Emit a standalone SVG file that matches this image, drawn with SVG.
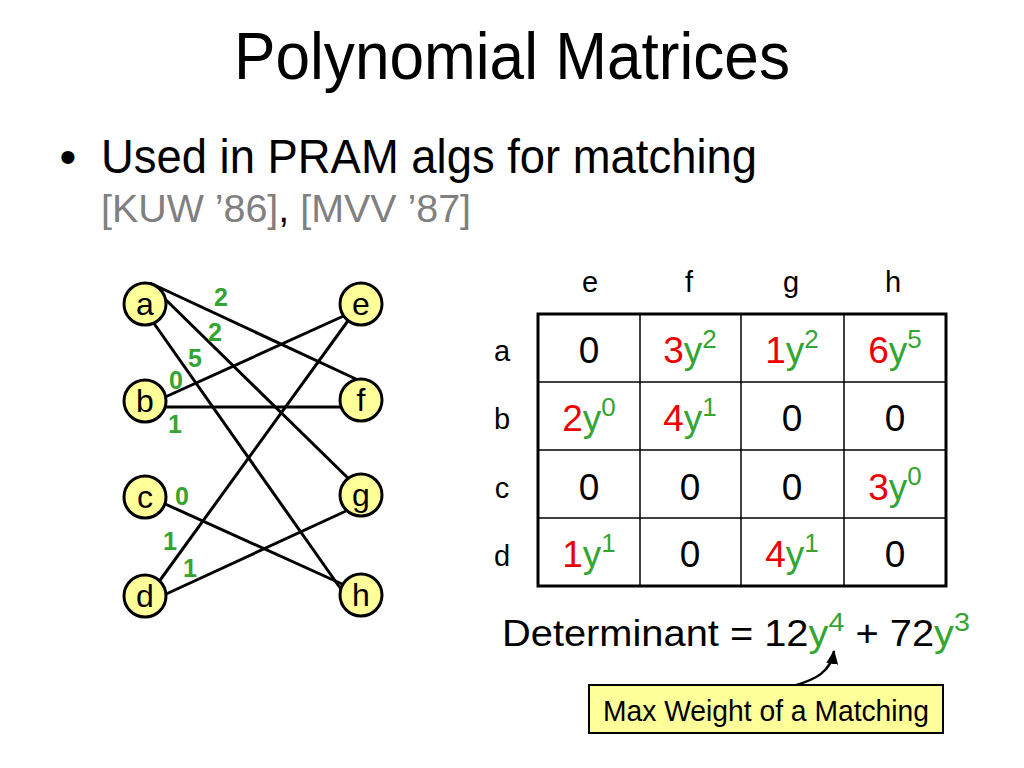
<svg xmlns="http://www.w3.org/2000/svg" width="1024" height="768" viewBox="0 0 1024 768">
<defs>
<style>
text{font-family:"Liberation Sans",Arial,Helvetica,sans-serif;}
.node circle{fill:#ffff99;stroke:#000;stroke-width:3;}
.node text{font-size:32px;text-anchor:middle;fill:#000;}
.edge line{stroke:#000;stroke-width:3;}
.w{font-size:25px;font-weight:bold;fill:#33a532;text-anchor:middle;}
.hdr{font-size:29px;text-anchor:middle;fill:#000;}
.cell{font-size:37px;text-anchor:middle;fill:#000;}
.r{fill:#ee0000;}
.g{fill:#33a532;}
.sup{font-size:26px;}
.grid{stroke:#000;stroke-width:1.5;}
</style>
<marker id="ah" viewBox="0 0 14 12" refX="13" refY="6" markerWidth="14" markerHeight="12" orient="auto" markerUnits="userSpaceOnUse">
<path d="M0,0 L14,6 L0,12 z" fill="#000"/>
</marker>
</defs>
<rect width="1024" height="768" fill="#fff"/>

<text x="512" y="79" font-size="66" text-anchor="middle" textLength="556" lengthAdjust="spacingAndGlyphs">Polynomial Matrices</text>
<text x="68" y="173" font-size="48" text-anchor="middle">•</text>
<text x="101" y="173" font-size="48" textLength="656" lengthAdjust="spacingAndGlyphs">Used in PRAM algs for matching</text>
<text x="101" y="222" font-size="38" textLength="370" lengthAdjust="spacingAndGlyphs"><tspan fill="#808080">[KUW ’86]</tspan><tspan fill="#000">, </tspan><tspan fill="#808080">[MVV ’87]</tspan></text>

<g id="connectors" class="edge">
<line x1="150" y1="283" x2="358" y2="380"/>
<line x1="163" y1="297" x2="352" y2="482"/>
<line x1="153" y1="322" x2="343" y2="592"/>
<line x1="163" y1="398" x2="348" y2="314"/>
<line x1="163" y1="407" x2="343" y2="407"/>
<line x1="163" y1="503" x2="342" y2="584"/>
<line x1="158" y1="583" x2="350" y2="318"/>
<line x1="164" y1="595" x2="346" y2="511"/>
</g>

<g id="node-a" class="node"><circle cx="145" cy="304" r="21"/><text x="145" y="315">a</text></g>
<g id="node-b" class="node"><circle cx="145" cy="401" r="21"/><text x="145" y="412">b</text></g>
<g id="node-c" class="node"><circle cx="145" cy="497" r="21"/><text x="145" y="508">c</text></g>
<g id="node-d" class="node"><circle cx="145" cy="596" r="21"/><text x="145" y="607">d</text></g>
<g id="node-e" class="node"><circle cx="361" cy="304" r="21"/><text x="361" y="315">e</text></g>
<g id="node-f" class="node"><circle cx="361" cy="400" r="21"/><text x="361" y="411">f</text></g>
<g id="node-g" class="node"><circle cx="361" cy="495" r="21"/><text x="361" y="506">g</text></g>
<g id="node-h" class="node"><circle cx="361" cy="595" r="21"/><text x="361" y="606">h</text></g>

<g id="weights">
<text class="w" x="221" y="306">2</text>
<text class="w" x="215" y="341">2</text>
<text class="w" x="195" y="367">5</text>
<text class="w" x="176" y="389">0</text>
<text class="w" x="175" y="433">1</text>
<text class="w" x="182" y="505">0</text>
<text class="w" x="170" y="550">1</text>
<text class="w" x="190" y="577">1</text>
</g>

<g id="matrix">
<text class="hdr" x="590" y="292">e</text>
<text class="hdr" x="689" y="292">f</text>
<text class="hdr" x="791" y="292">g</text>
<text class="hdr" x="893" y="292">h</text>
<text class="hdr" x="502" y="361">a</text>
<text class="hdr" x="502" y="429">b</text>
<text class="hdr" x="502" y="498">c</text>
<text class="hdr" x="502" y="566">d</text>
<g class="grid">
<line x1="640" y1="314" x2="640" y2="586"/>
<line x1="741" y1="314" x2="741" y2="586"/>
<line x1="844" y1="314" x2="844" y2="586"/>
<line x1="538" y1="382" x2="946" y2="382"/>
<line x1="538" y1="450" x2="946" y2="450"/>
<line x1="538" y1="518" x2="946" y2="518"/>
</g>
<rect x="538" y="314" width="408" height="272" fill="none" stroke="#000" stroke-width="3"/>

<text class="cell" x="589" y="363">0</text>
<text class="cell" x="690" y="363"><tspan class="r">3</tspan><tspan class="g">y</tspan><tspan class="g sup" dy="-15">2</tspan></text>
<text class="cell" x="792" y="363"><tspan class="r">1</tspan><tspan class="g">y</tspan><tspan class="g sup" dy="-15">2</tspan></text>
<text class="cell" x="895" y="363"><tspan class="r">6</tspan><tspan class="g">y</tspan><tspan class="g sup" dy="-15">5</tspan></text>

<text class="cell" x="589" y="431"><tspan class="r">2</tspan><tspan class="g">y</tspan><tspan class="g sup" dy="-15">0</tspan></text>
<text class="cell" x="690" y="431"><tspan class="r">4</tspan><tspan class="g">y</tspan><tspan class="g sup" dy="-15">1</tspan></text>
<text class="cell" x="792" y="431">0</text>
<text class="cell" x="895" y="431">0</text>

<text class="cell" x="589" y="500">0</text>
<text class="cell" x="690" y="500">0</text>
<text class="cell" x="792" y="500">0</text>
<text class="cell" x="895" y="500"><tspan class="r">3</tspan><tspan class="g">y</tspan><tspan class="g sup" dy="-15">0</tspan></text>

<text class="cell" x="589" y="567"><tspan class="r">1</tspan><tspan class="g">y</tspan><tspan class="g sup" dy="-15">1</tspan></text>
<text class="cell" x="690" y="567">0</text>
<text class="cell" x="792" y="567"><tspan class="r">4</tspan><tspan class="g">y</tspan><tspan class="g sup" dy="-15">1</tspan></text>
<text class="cell" x="895" y="567">0</text>
</g>

<text x="502" y="646" font-size="36" textLength="468" lengthAdjust="spacingAndGlyphs">Determinant = 12<tspan class="g">y</tspan><tspan class="g" font-size="26" dy="-15">4</tspan><tspan dy="15"> + 72</tspan><tspan class="g">y</tspan><tspan class="g" font-size="26" dy="-15">3</tspan></text>

<g id="callout">
<path d="M793,686 C815,680 831,672 834,651" fill="none" stroke="#000" stroke-width="2.5" marker-end="url(#ah)"/>
<rect x="589" y="685" width="354" height="48" fill="#ffff99" stroke="#000" stroke-width="2"/>
<text x="603" y="721" font-size="30" textLength="326" lengthAdjust="spacingAndGlyphs">Max Weight of a Matching</text>
</g>
</svg>
